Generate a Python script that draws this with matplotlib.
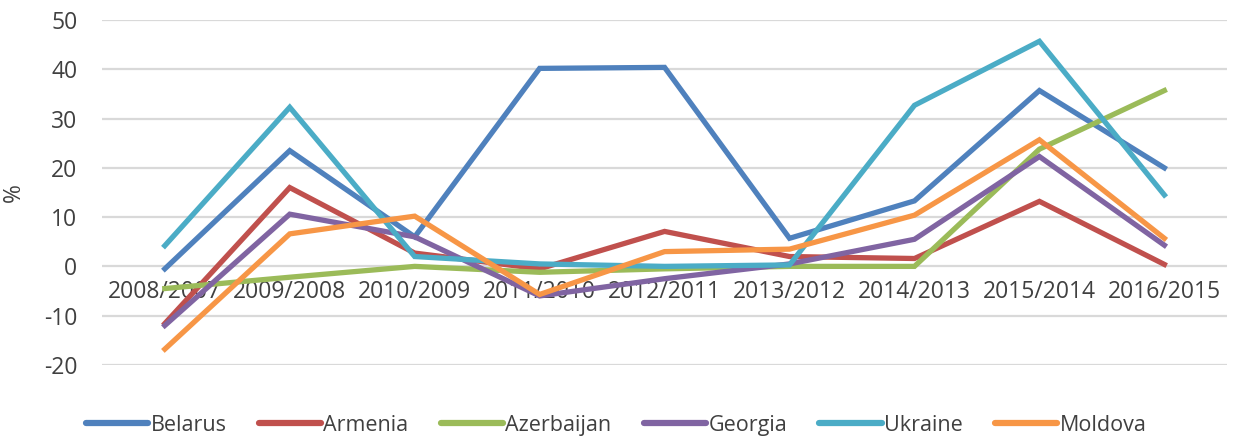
import matplotlib.pyplot as plt

periods = ['2008/2007', '2009/2008', '2010/2009', '2011/2010', '2012/2011',
           '2013/2012', '2014/2013', '2015/2014', '2016/2015']

belarus = [-0.5, 23.5, 6.0, 40.2, 40.4, 5.7, 13.3, 35.7, 20.0]
armenia = [-11.6, 16.0, 2.7, -0.5, 7.1, 2.0, 1.6, 13.2, 0.4]
azerbaijan = [-4.5, -2.2, 0.0, -1.2, -0.5, 0.0, 0.0, 23.8, 35.7]
georgia = [-12.0, 10.6, 6.0, -6.0, -2.5, 0.5, 5.5, 22.3, 4.3]
ukraine = [4.2, 32.3, 2.0, 0.5, 0.0, 0.3, 32.7, 45.7, 14.5]
moldova = [-16.8, 6.6, 10.2, -5.7, 3.0, 3.5, 10.4, 25.7, 5.7]

series = [
    ('Belarus', belarus, '#4F81BD'),
    ('Armenia', armenia, '#C0504D'),
    ('Azerbaijan', azerbaijan, '#9BBB59'),
    ('Georgia', georgia, '#8064A2'),
    ('Ukraine', ukraine, '#4BACC6'),
    ('Moldova', moldova, '#F79646'),
]

plt.rcParams['font.family'] = ['Open Sans', 'DejaVu Sans']
plt.rcParams['axes.unicode_minus'] = False

fig = plt.figure(figsize=(12.33, 4.37), dpi=100)
ax = fig.add_axes([0.083, 0.165, 0.912, 0.789])

x = list(range(len(periods)))
for name, vals, color in series:
    ax.plot(x, vals, color=color, linewidth=3.8, label=name, solid_joinstyle='miter')

ax.set_xlim(-0.5, len(periods) - 0.5)
ax.set_ylim(-20, 50)
ax.set_yticks(range(-20, 51, 10))
ax.yaxis.grid(True, color='#D9D9D9', linewidth=1.6)
ax.set_axisbelow(True)

ax.set_xticks(x)
ax.set_xticklabels(periods)
ax.spines['bottom'].set_position(('data', 0))
for s in ['top', 'right', 'left', 'bottom']:
    ax.spines[s].set_visible(False)
ax.tick_params(axis='both', length=0, labelsize=16.5, colors='#404040')
ax.tick_params(axis='x', pad=10)
ax.tick_params(axis='y', pad=18)

ax.set_ylabel('%', fontsize=16.5, color='#404040')
ax.yaxis.set_label_coords(-0.068, 0.5)

leg = ax.legend(loc='center', bbox_to_anchor=(0.457, -0.175), ncol=6, frameon=False,
                fontsize=15.5, handlelength=2.9, columnspacing=1.5, handletextpad=0.1,
                labelcolor='#404040')
for h in leg.get_lines():
    h.set_solid_capstyle('round')
    h.set_linewidth(4.5)

fig.savefig('out.png', dpi=100)
